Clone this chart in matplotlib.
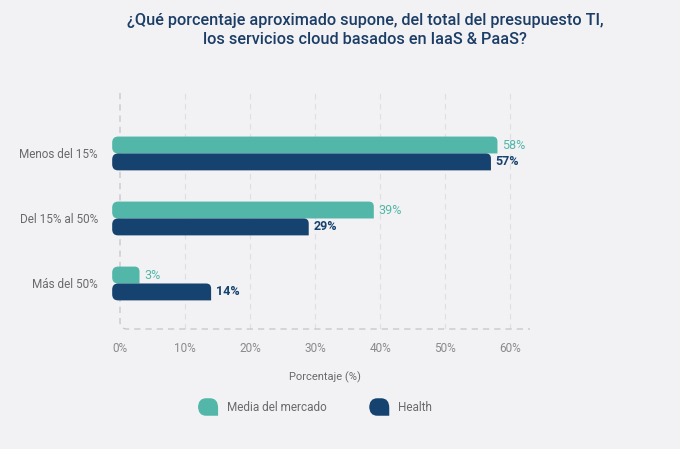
import matplotlib.pyplot as plt
from matplotlib.path import Path
from matplotlib.patches import PathPatch
from matplotlib.legend_handler import HandlerPatch
import numpy as np

# --- Datos ---
categorias = ['Menos del 15%', 'Del 15% al 50%', 'Más del 50%']
media_mercado = [58, 39, 3]
health = [57, 29, 14]
series = ['Media del mercado', 'Health']
ticks = [0, 10, 20, 30, 40, 50, 60]

TEAL = '#52b6a8'
NAVY = '#16426f'
BG = '#f2f2f4'

plt.rcParams['font.family'] = ['Roboto', 'DejaVu Sans']

fig = plt.figure(figsize=(6.8, 4.49), dpi=100, facecolor=BG)
ax = fig.add_axes([120 / 680, 1 - 329 / 449, 410 / 680, 236 / 449])
ax.set_facecolor(BG)
ax.set_xlim(0, 63)
ax.set_ylim(2.70, -0.93)

# escala px por unidad de datos
px_x = 410 / 63
px_y = 236 / 3.63


def bar_path(x0, x1, yc, h, rl=6, rr=5):
    rlx, rly = rl / px_x, rl / px_y
    rrx, rry = rr / px_x, rr / px_y
    yt, yb = yc - h / 2, yc + h / 2
    verts = [(x0 + rlx, yt), (x1 - rrx, yt), (x1, yt), (x1, yt + rry),
             (x1, yb), (x0 + rlx, yb), (x0, yb), (x0, yb - rly),
             (x0, yt + rly), (x0, yt), (x0 + rlx, yt), (x0 + rlx, yt)]
    codes = [Path.MOVETO, Path.LINETO, Path.CURVE3, Path.CURVE3,
             Path.LINETO, Path.LINETO, Path.CURVE3, Path.CURVE3,
             Path.LINETO, Path.CURVE3, Path.CURVE3, Path.CLOSEPOLY]
    return Path(verts, codes)


h = 0.26
y = np.arange(len(categorias))
x_start = -1.2
for vals, off, col, peso in [(media_mercado, -h / 2, TEAL, 'normal'),
                              (health, h / 2, NAVY, 'bold')]:
    for yi, v in zip(y, vals):
        ax.add_patch(PathPatch(bar_path(x_start, v, yi + off, h), facecolor=col,
                               edgecolor='none', clip_on=False, zorder=3))
        ax.annotate(f'{v}%', (v, yi + off), xytext=(3.5, 0), textcoords='offset points',
                    va='center', ha='left', color=col, fontsize=9, fontweight=peso)

# rejilla y marco
for t in ticks[1:]:
    ax.axvline(t, color='#dfdfe3', lw=0.8, ls=(0, (5, 4)), zorder=1)
r = 7
fv = [(0, -0.93), (0, 2.70 - r / px_y), (0, 2.70), (r / px_x, 2.70), (63, 2.70)]
fc = [Path.MOVETO, Path.LINETO, Path.CURVE3, Path.CURVE3, Path.LINETO]
ax.add_patch(PathPatch(Path(fv, fc), fill=False, edgecolor='#c4c4c9', lw=0.9,
                       ls=(0, (5, 4)), clip_on=False, zorder=2))
for s in ax.spines.values():
    s.set_visible(False)

ax.set_xticks(ticks)
ax.set_xticklabels([f'{t}%' for t in ticks])
ax.set_yticks(y)
ax.set_yticklabels(categorias)
ax.tick_params(axis='x', length=0, pad=9, labelsize=8.5, labelcolor='#8a8a8e')
ax.tick_params(axis='y', length=0, pad=16, labelsize=8.5, labelcolor='#6a6a6e')
ax.set_xlabel('Porcentaje (%)', fontsize=8, color='#6a6a6e', labelpad=12)

fig.text(365 / 680, 1 - 30 / 449,
         '¿Qué porcentaje aproximado supone, del total del presupuesto TI,\n'
         'los servicios cloud basados en IaaS & PaaS?',
         ha='center', va='center', fontsize=11.7, color='#1b3d66',
         fontweight='medium', linespacing=1.3)


# --- Leyenda ---
class HandlerBar(HandlerPatch):
    def create_artists(self, legend, orig_handle, xdescent, ydescent, width, height,
                       fontsize, trans):
        x0, x1 = -xdescent, -xdescent + width
        y0, y1 = -ydescent, -ydescent + height
        rx = width * 0.4
        ry = height * 0.55
        verts = [(x0 + rx, y1), (x1 - rx, y1), (x1, y1), (x1, y1 - ry),
                 (x1, y0), (x0 + rx, y0), (x0, y0), (x0, y0 + ry),
                 (x0, y1 - ry), (x0, y1), (x0 + rx, y1), (x0 + rx, y1)]
        codes = [Path.MOVETO, Path.LINETO, Path.CURVE3, Path.CURVE3,
                 Path.LINETO, Path.LINETO, Path.CURVE3, Path.CURVE3,
                 Path.LINETO, Path.CURVE3, Path.CURVE3, Path.CLOSEPOLY]
        p = PathPatch(Path(verts, codes), facecolor=orig_handle.get_facecolor(),
                      edgecolor='none', transform=trans)
        return [p]


handles = [PathPatch(Path([(0, 0)]), facecolor=c) for c in (TEAL, NAVY)]
leg = fig.legend(handles, series, loc='center', bbox_to_anchor=(315 / 680, 1 - 407 / 449),
                 ncol=2, frameon=False, fontsize=8.5, handlelength=1.7, handleheight=1.9,
                 handletextpad=0.75, columnspacing=3.6,
                 handler_map={PathPatch: HandlerBar()})
for t in leg.get_texts():
    t.set_color('#6a6a6e')

fig.savefig('out.png', dpi=100, facecolor=BG)
